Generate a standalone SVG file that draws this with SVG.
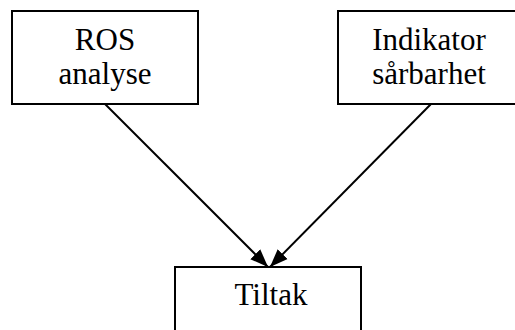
<svg xmlns="http://www.w3.org/2000/svg" width="515" height="330" viewBox="0 0 515 330">
  <style>
    .box { fill: #ffffff; stroke: #000000; stroke-width: 2; }
    .edge { stroke: #000000; stroke-width: 2; fill: none; marker-end: url(#arrow); }
  </style>
  <defs>
    <marker id="arrow" markerUnits="userSpaceOnUse" markerWidth="20" markerHeight="16" refX="18" refY="8" orient="auto">
      <path d="M0,1 L18,8 L0,15 Z" fill="#000000"/>
    </marker>
  </defs>
  <rect width="515" height="330" fill="#ffffff"/>
  <g id="connectors">
    <line class="edge" x1="105" y1="104" x2="268" y2="267"/>
    <line class="edge" x1="431" y1="104" x2="270" y2="267"/>
  </g>
  <g font-family="'Liberation Serif', 'Times New Roman', serif" font-size="31px" fill="#000000" text-anchor="middle">
    <g id="ros-analyse">
      <rect class="box" x="12" y="11" width="186" height="93"/>
      <text x="105" y="50">ROS</text>
      <text x="105" y="84">analyse</text>
    </g>
    <g id="indikator-sarbarhet">
      <rect class="box" x="338" y="11" width="182" height="93"/>
      <text x="429" y="50">Indikator</text>
      <text x="429" y="84">sårbarhet</text>
    </g>
    <g id="tiltak">
      <rect class="box" x="175" y="267" width="186" height="80"/>
      <text x="271" y="305">Tiltak</text>
    </g>
  </g>
</svg>
